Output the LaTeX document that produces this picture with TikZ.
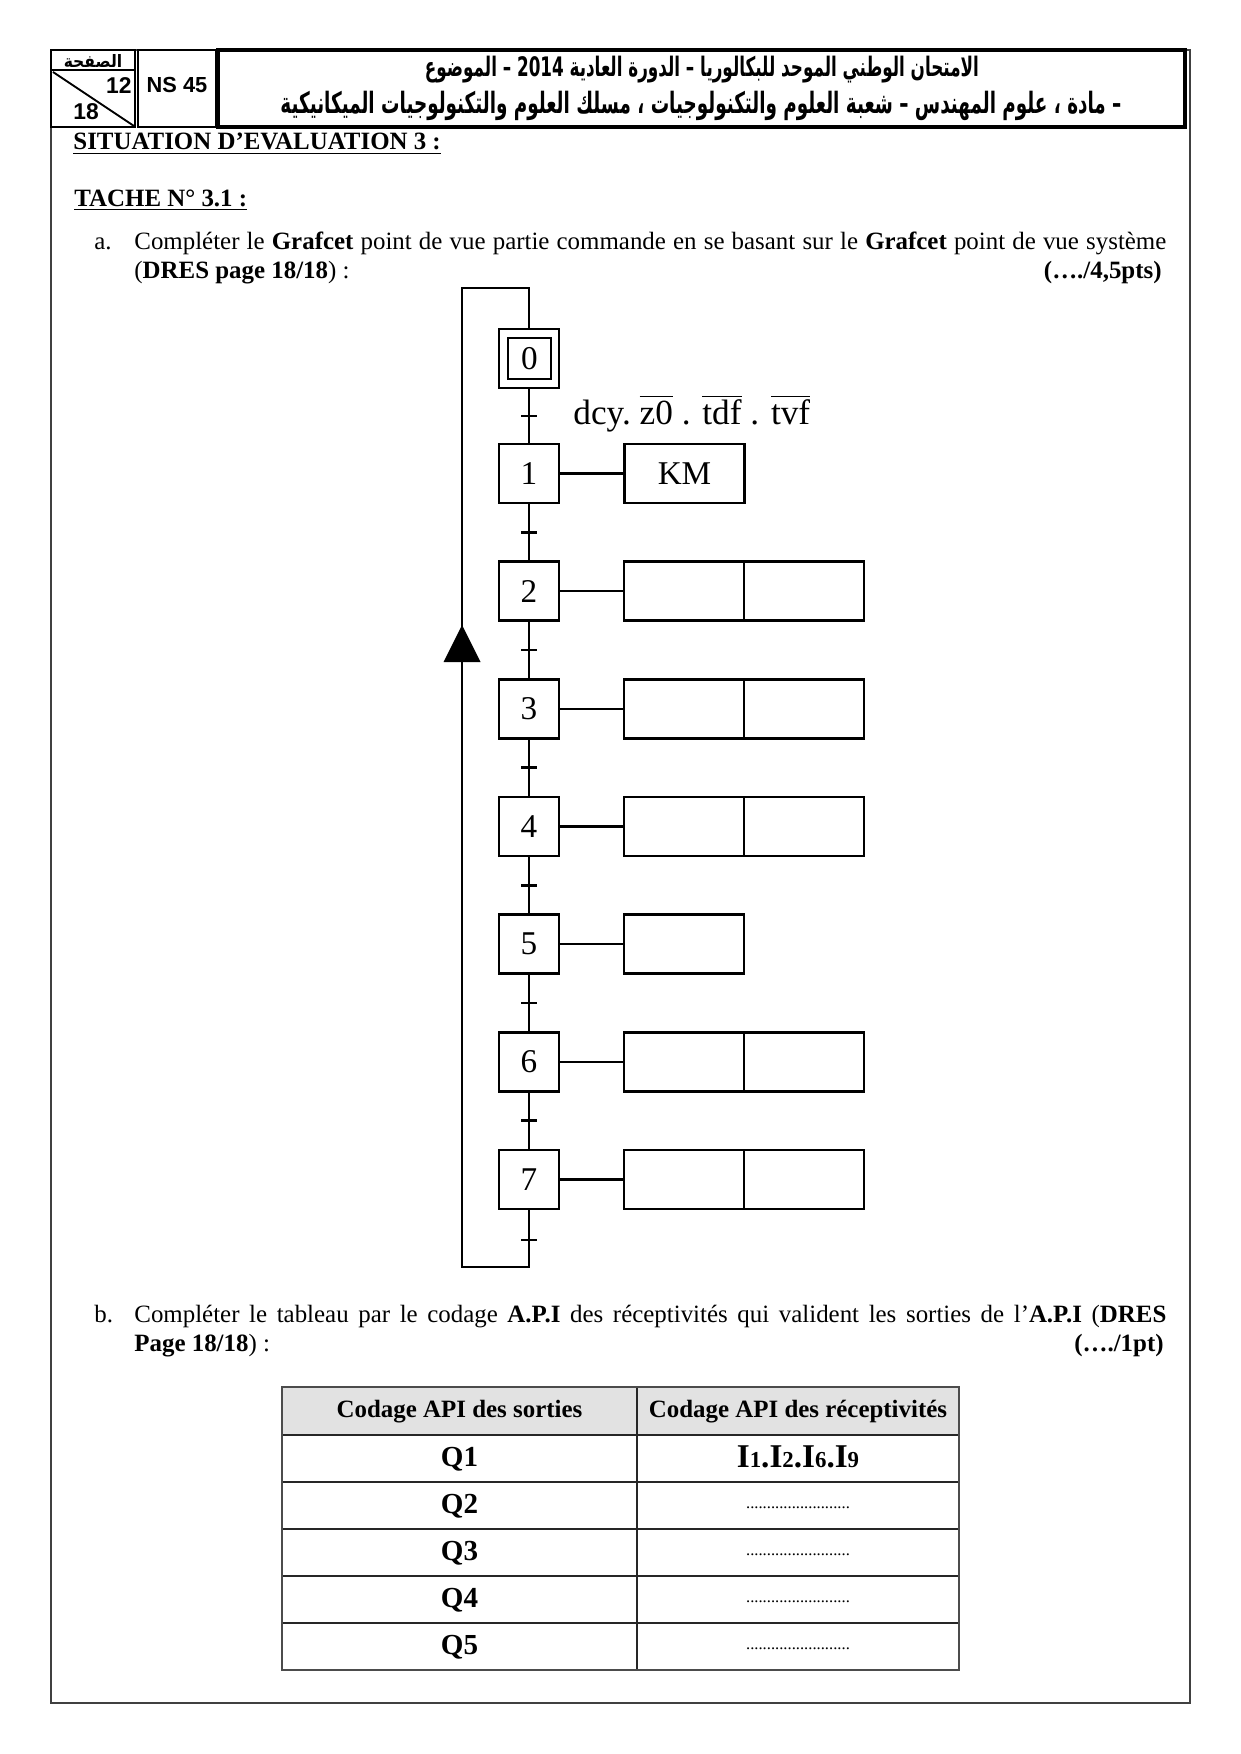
\documentclass[tikz,border=0pt]{standalone}
\usepackage{fontspec}
\usepackage{graphicx}
\setmainfont{Liberation Serif}
\newfontfamily\arialf{Liberation Sans}
\newfontfamily\arabicfont[Script=Arabic]{DejaVu Sans}
\TeXXeTstate=1
\usetikzlibrary{calc}
\newdimen\pxu \pxu=0.4818pt
\newcommand\ovl[1]{$\overline{\vphantom{dl}\hbox{#1}}$}
\definecolor{hdr}{HTML}{E2E2E2}
\tikzset{
  stp/.style={draw, line width=1.35pt, minimum width=28.9pt, minimum height=28.4pt, inner sep=0pt, font=\fontsize{16}{16}\selectfont},
  stpin/.style={draw, line width=1.35pt, minimum width=20.7pt, minimum height=19.8pt, inner sep=0pt, font=\fontsize{16}{16}\selectfont},
  act/.style={draw, line width=1.35pt, minimum width=57.8pt, minimum height=28.4pt, inner sep=0pt, font=\fontsize{16}{16}\selectfont},
  gl/.style={line width=1.35pt},
  cl/.style={line width=1.1pt},
  txt/.style={inner sep=0pt, anchor=base west, font=\fontsize{12}{14}\selectfont},
  tline/.style={line width=0.6pt, black!85},
  qtxt/.style={inner sep=0pt, font=\fontsize{14}{14}\selectfont\bfseries},
  dtxt/.style={inner sep=0pt, font=\fontsize{8}{8}\selectfont},
}
\begin{document}
\begin{tikzpicture}[x=0.4818pt,y=-0.4818pt]
\useasboundingbox (0,0) rectangle (1240,1754);
\fill[white] (0,0) rectangle (1240,1754);

% page frame
\draw[line width=0.8pt, black!75] (51,50) rectangle (1190,1703);

% header
\draw[line width=1.6pt] (218,50) rectangle (1185,127);
\draw[line width=0.8pt] (138,50) rectangle (216,127);
\draw[line width=1.4pt] (51,50) rectangle (135,127);
\draw[line width=1.2pt] (51,70) -- (135,70);
\draw[line width=0.9pt] (53,72) -- (134,126);
\node[inner sep=0pt] (pg) at (93,61) {\scalebox{1}[1.1]{\arabicfont\bfseries\fontsize{7.5}{7.5}\selectfont\beginR الصفحة\endR}};
\node[inner sep=0pt, anchor=east, font=\arialf\bfseries\fontsize{11}{11}\selectfont] (p12) at (132,86) {12};
\node[inner sep=0pt, anchor=west, font=\arialf\bfseries\fontsize{11}{11}\selectfont] (p18) at (73,112) {18};
\node[inner sep=0pt, font=\arialf\bfseries\fontsize{10.5}{11}\selectfont] (ns) at (177,85) {NS 45};
\node[inner sep=0pt] (ar1) at (702,70) {\scalebox{1}[1.6]{\resizebox{554\pxu}{!}{\arabicfont\bfseries\beginR الامتحان الوطني الموحد للبكالوريا – الدورة العادية \beginL 2014\endL{} – الموضوع\endR}}};
\node[inner sep=0pt] (ar2) at (701,106) {\scalebox{1}[1.6]{\resizebox{841\pxu}{!}{\arabicfont\bfseries\beginR – مادة ، علوم المهندس – شعبة العلوم والتكنولوجيات ، مسلك العلوم والتكنولوجيات الميكانيكية\endR}}};

% titles
\node[txt] (sit) at (73,150) {\bfseries\underline{SITUATION D’EVALUATION 3 :}};
\node[txt] (tache) at (74,206.5) {\bfseries\underline{TACHE N° 3.1 :}};
\node[txt] (la) at (94,249.5) {a.};
\node[txt] (a1) at (134,249.5) {\makebox[1032\pxu][s]{Compléter le \textbf{Grafcet} point de vue partie commande en se basant sur le \textbf{Grafcet} point de vue système}};
\node[txt] (a2) at (134,278.5) {(\textbf{DRES page 18/18}) :};
\node[txt, anchor=base east] (a3) at (1162,278.5) {\textbf{(…./4,5pts)}};

% grafcet
\node[stp] (s0) at (529,358.5) {};
\node[stpin] (s0i) at (529.5,358.5) {0};
\node[stp] (s1) at (529,473.5) {1};
\node[stp] (s2) at (529,591.2) {2};
\node[stp] (s3) at (529,708.8) {3};
\node[stp] (s4) at (529,826.5) {4};
\node[stp] (s5) at (529,944.2) {5};
\node[stp] (s6) at (529,1061.8) {6};
\node[stp] (s7) at (529,1179.5) {7};

\node[act] (k1a) at (684.5,473.5) {KM};
\node[act] (k2a) at (684,591.2) {};
\node[act] (k2b) at (804,591.2) {};
\node[act] (k3a) at (684,708.8) {};
\node[act] (k3b) at (804,708.8) {};
\node[act] (k4a) at (684,826.5) {};
\node[act] (k4b) at (804,826.5) {};
\node[act] (k5a) at (684,944.2) {};
\node[act] (k6a) at (684,1061.8) {};
\node[act] (k6b) at (804,1061.8) {};
\node[act] (k7a) at (684,1179.5) {};
\node[act] (k7b) at (804,1179.5) {};

\foreach \i in {1,2,3,4,5,6,7}{
  \draw[cl] (s\i.east) -- (k\i a.west);
}
\foreach \i/\j in {0/1,1/2,2/3,3/4,4/5,5/6,6/7}{
  \draw[gl] (s\i.south) -- (s\j.north);
  \coordinate (t\i) at ($(s\i.south)!0.5!(s\j.north)$);
  \draw[gl] ([xshift=-3.7pt]t\i) -- ([xshift=3.7pt]t\i);
}
\coordinate (lb) at (529,1267);
\coordinate (lbl) at (462,1267);
\coordinate (ltl) at (462,288);
\coordinate (lt) at (529,288);
\coordinate (t7) at (529,1240);
\draw[gl] (s7.south) -- (lb) -- (lbl) -- (ltl) -- (lt) -- (s0.north);
\draw[gl] ([xshift=-3.7pt]t7) -- ([xshift=3.7pt]t7);
\fill (462,625) -- (443.5,662) -- (480.5,662) -- cycle;

\node[inner sep=0pt, anchor=base west, font=\fontsize{17}{17}\selectfont] (rcp) at (573,424) {dcy.\ \ovl{z0} . \ovl{tdf} . \ovl{tvf}};

% part b
\node[txt] (lb2) at (94,1322.5) {b.};
\node[txt] (b1) at (134,1322.5) {\makebox[1032\pxu][s]{Compléter le tableau par le codage \textbf{A.P.I} des réceptivités qui valident les sorties de l’\textbf{A.P.I} (\textbf{DRES}}};
\node[txt] (b2) at (134,1351.5) {\textbf{Page 18/18}) :};
\node[txt, anchor=base east] (b3) at (1164,1351.5) {\textbf{(…./1pt)}};

% table
\fill[hdr] (282,1387) rectangle (959,1435);
\foreach \yy in {1435,1482,1529,1576,1623}{
  \draw[tline] (282,\yy) -- (959,\yy);
}
\draw[tline] (637,1387) -- (637,1670);
\draw[line width=0.9pt, black!70] (282,1387) rectangle (959,1670);
\node[inner sep=0pt, font=\fontsize{12}{12}\selectfont\bfseries] (h1) at (459.5,1412) {Codage API des sorties};
\node[inner sep=0pt, font=\fontsize{12}{12}\selectfont\bfseries] (h2) at (798,1412) {Codage API des réceptivités};
\node[qtxt] (q1) at (459.5,1459.5) {Q1};
\node[qtxt] (q2) at (459.5,1506.5) {Q2};
\node[qtxt] (q3) at (459.5,1553.5) {Q3};
\node[qtxt] (q4) at (459.5,1600.5) {Q4};
\node[qtxt] (q5) at (459.5,1647.5) {Q5};
\node[inner sep=0pt, anchor=base, font=\bfseries] (r1) at (798,1467) {\fontsize{16}{16}\selectfont I\fontsize{11}{11}\selectfont 1\fontsize{16}{16}\selectfont .I\fontsize{11}{11}\selectfont 2\fontsize{16}{16}\selectfont .I\fontsize{11}{11}\selectfont 6\fontsize{16}{16}\selectfont .I\fontsize{11}{11}\selectfont 9};
\node[dtxt] (r2) at (798,1508) {.........................};
\node[dtxt] (r3) at (798,1555) {.........................};
\node[dtxt] (r4) at (798,1602) {.........................};
\node[dtxt] (r5) at (798,1649) {.........................};
\end{tikzpicture}
\end{document}
